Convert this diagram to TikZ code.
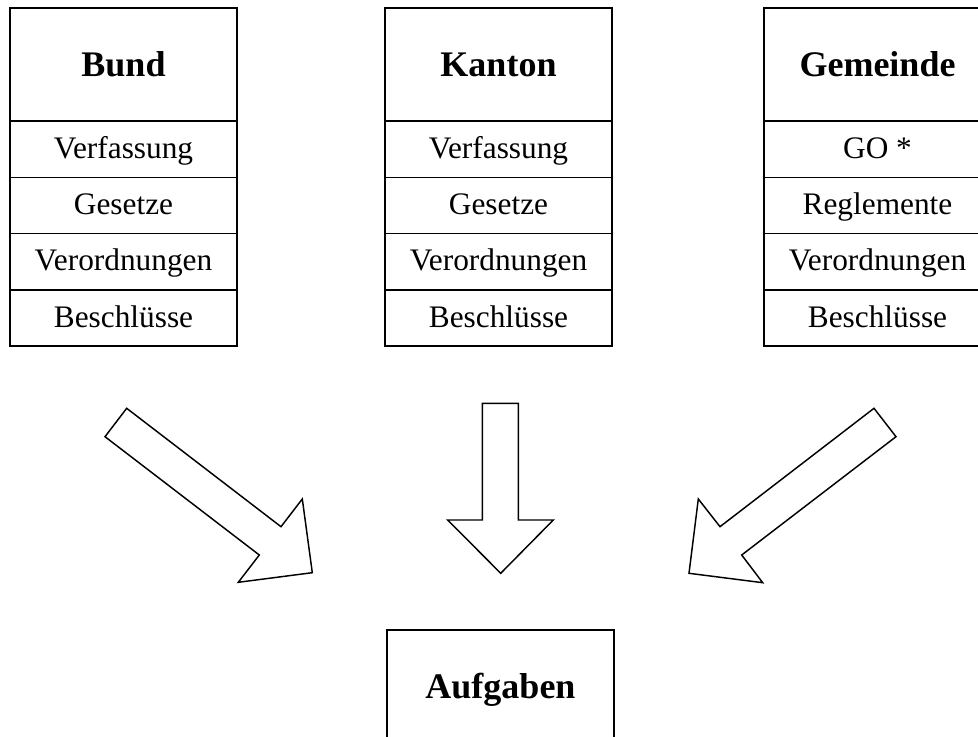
\documentclass[tikz,border=0pt]{standalone}
\usepackage{fontspec}
\setmainfont{Liberation Serif}
\begin{document}
\begin{tikzpicture}[x=0.75pt,y=-0.75pt,line width=1.1pt,
  hdr/.style={draw,minimum width=170.25pt,minimum height=84.75pt,inner sep=0pt,outer sep=0pt,anchor=north west,
    text height=19.5pt,text depth=1pt,font=\fontsize{27}{30}\selectfont\bfseries},
  rowbox/.style={draw,minimum width=170.25pt,minimum height=42.2pt,inner sep=0pt,outer sep=0pt,anchor=north,
    text height=19pt,text depth=5pt,font=\fontsize{23.5}{27}\selectfont},
  blockarrow/.style={draw,line join=miter,fill=white}]
\useasboundingbox (0,0) rectangle (978,737);
\clip (0,0) rectangle (978,737);
% Bund
\node[hdr] (bh) at (10,8) {Bund};
\node[rowbox] (b1) at (bh.south) {Verfassung};
\node[rowbox] (b2) at (b1.south) {Gesetze};
\node[rowbox] (b3) at (b2.south) {Verordnungen};
\node[rowbox] (b4) at (b3.south) {Beschlüsse};
% Kanton
\node[hdr] (kh) at (385,8) {Kanton};
\node[rowbox] (k1) at (kh.south) {Verfassung};
\node[rowbox] (k2) at (k1.south) {Gesetze};
\node[rowbox] (k3) at (k2.south) {Verordnungen};
\node[rowbox] (k4) at (k3.south) {Beschlüsse};
% Gemeinde
\node[hdr] (gh) at (764,8) {Gemeinde};
\node[rowbox] (g1) at (gh.south) {GO *};
\node[rowbox] (g2) at (g1.south) {Reglemente};
\node[rowbox] (g3) at (g2.south) {Verordnungen};
\node[rowbox] (g4) at (g3.south) {Beschlüsse};
% Aufgaben
\node[hdr] (auf) at (387,630) {Aufgaben};
% block arrows
\draw[blockarrow] (126.7,408.3) -- (281,526.7) -- (302.3,499) -- (312.3,572.7) -- (238.3,582.3) -- (259.3,555) -- (105,436.7) -- cycle;
\draw[blockarrow] (482.3,403.3) -- (518.3,403.3) -- (518.3,520) -- (553.3,520) -- (500.7,573.3) -- (447.7,520) -- (482.3,520) -- cycle;
\draw[blockarrow] (874,408.3) -- (896,436.7) -- (741.7,555) -- (762.7,582.7) -- (689,573.3) -- (698.3,499) -- (720,526.7) -- cycle;
\end{tikzpicture}
\end{document}
